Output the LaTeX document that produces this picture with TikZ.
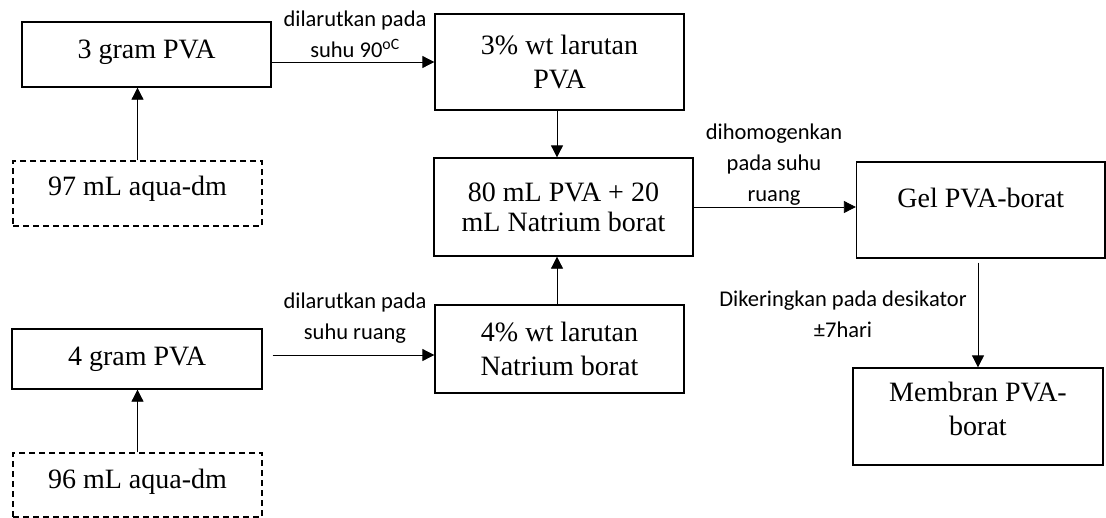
\documentclass[tikz,border=0pt]{standalone}
\usepackage{fontspec}
\setmainfont{Liberation Serif}
\newfontfamily\labfont{Carlito}
\usetikzlibrary{arrows.meta}
\tikzset{
  box/.style={draw=black, line width=1.3pt, inner sep=0pt, align=center,
    font=\fontsize{28}{34}\selectfont},
  dbox/.style={box, dashed, dash pattern=on 6pt off 4pt, line width=1.1pt},
  lab/.style={inner sep=0pt, align=center, font=\labfont\fontsize{22.5}{31}\selectfont},
  arr/.style={line width=0.8pt, -{Triangle[length=12pt,width=12pt]}}
}
\begin{document}
\begin{tikzpicture}[x=1pt,y=-1pt]
\useasboundingbox (0,0) rectangle (1106,517);
% boxes
\node[box, minimum width=249pt, minimum height=65pt, text height=20pt, text depth=13pt] (A) at (146.5,54.5) {3 gram PVA};
\node[dbox, minimum width=249pt, minimum height=65pt, text height=20pt, text depth=17pt] (aq1) at (137.5,193.5) {97 mL aqua-dm};
\node[box, minimum width=249pt, minimum height=96pt] (B) at (559.5,62) {3\% wt larutan\\PVA};
\node[box, minimum width=259pt, minimum height=98pt, font=\fontsize{28}{30}\selectfont] (C) at (563.5,207) {80 mL PVA + 20\\mL Natrium borat};
\node[box, minimum width=248.5pt, minimum height=96pt, text height=20pt, text depth=26pt] (gel) at (980.75,210) {Gel PVA-borat};
\node[box, minimum width=250pt, minimum height=97pt, text depth=16pt] (mem) at (978,416.5) {Membran PVA-\\borat};
\node[box, minimum width=250pt, minimum height=60pt, text height=20pt, text depth=8pt] (G4) at (137,359) {4 gram PVA};
\node[box, minimum width=249pt, minimum height=88pt] (D) at (559.5,349) {4\% wt larutan\\Natrium borat};
\node[dbox, minimum width=249pt, minimum height=64pt, text height=20pt, text depth=14pt] (aq2) at (137.5,485) {96 mL aqua-dm};
% labels
\node[lab] (l1) at (355,34) {dilarutkan pada\\suhu 90\textsuperscript{oC}};
\node[lab] (l2) at (774,165) {dihomogenkan\\pada suhu\\ruang};
\node[lab] (l3) at (843,314) {Dikeringkan pada desikator\\±7hari};
\node[lab] (l4) at (355,318) {dilarutkan pada\\suhu ruang};
% connectors
\draw[arr] (aq1.north) -- (aq1.north |- A.south);
\draw[arr] (A.east |- B.west) -- (B.west);
\draw[arr] ([xshift=-2.5pt]B.south) -- ([xshift=-2.5pt]B.south |- C.north);
\draw[arr] (C.east) -- (C.east -| gel.west);
\draw[arr] ([yshift=-4pt]gel.south -| mem.north) -- (mem.north);
\draw[arr] (aq2.north) -- (aq2.north |- G4.south);
\coordinate (g4out) at ([xshift=10pt,yshift=4pt]G4.east);
\draw[arr] (g4out) -- (g4out -| D.west);
\draw[arr] ([xshift=-2.5pt]D.north) -- ([xshift=-2.5pt]D.north |- C.south);
\end{tikzpicture}
\end{document}
